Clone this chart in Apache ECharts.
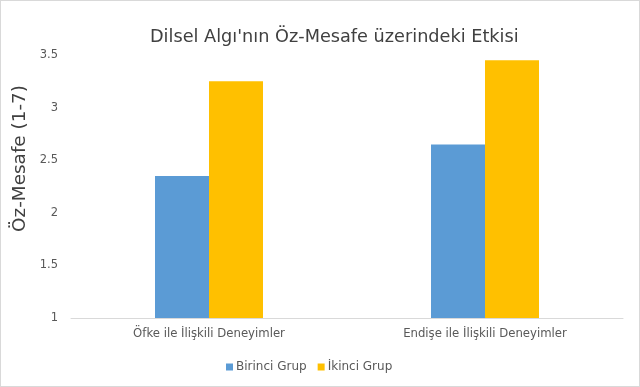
<!DOCTYPE html>
<html><head><meta charset="utf-8">
<script src="https://cdn.jsdelivr.net/npm/echarts@6/dist/echarts.min.js"></script>
<style>html,body{margin:0;padding:0;background:#fff}#c{width:638px;height:385px;border:1px solid #d9d9d9}</style>
</head><body><div id="c"></div>
<script>
const categories = ["Öfke ile İlişkili Deneyimler", "Endişe ile İlişkili Deneyimler"];
const seriesNames = ["Birinci Grup", "İkinci Grup"];
const birinci = [2.35, 2.65];
const ikinci = [3.25, 3.45];
const yTicks = [1, 1.5, 2, 2.5, 3, 3.5];

const chart = echarts.init(document.getElementById('c'));
const font = 'DejaVu Sans';
chart.setOption({
  animation: false,
  title: {text: "Dilsel Algı'nın Öz-Mesafe üzerindeki Etkisi", left: 144, top: 22,
    textStyle: {fontFamily: font, fontSize: 17.7, fontWeight: 'normal', color: '#404040'}},
  legend: {top: 355, left: 220, itemWidth: 7, itemHeight: 7, itemGap: 11, icon: 'rect',
    textStyle: {fontFamily: font, fontSize: 12, color: '#595959', padding: [0,0,0,-2]}},
  grid: {left: 70, right: 16, top: 54, bottom: 68, outerBoundsMode: 'none', containLabel: false},
  xAxis: {type: 'category', data: categories,
    axisLine: {lineStyle: {color: '#d9d9d9'}}, axisTick: {show: false},
    axisLabel: {fontFamily: font, fontSize: 11.7, color: '#595959', margin: 10}},
  yAxis: {type: 'value', min: yTicks[0], max: yTicks[yTicks.length-1], interval: 0.5,
    name: 'Öz-Mesafe (1-7)', nameLocation: 'middle', nameGap: 41,
    nameTextStyle: {fontFamily: font, fontSize: 18.4, color: '#404040', padding: [0,0,0,56]},
    splitLine: {show: false}, axisLine: {show: false}, axisTick: {show: false},
    axisLabel: {fontFamily: font, fontSize: 11.5, color: '#595959', margin: 13}},
  series: [
    {name: seriesNames[0], type: 'bar', data: birinci, barWidth: 54, barGap: '0%', itemStyle: {color: '#5B9BD5'}},
    {name: seriesNames[1], type: 'bar', data: ikinci, barWidth: 54, barGap: '0%', itemStyle: {color: '#FFC000'}}
  ]
});
</script></body></html>
